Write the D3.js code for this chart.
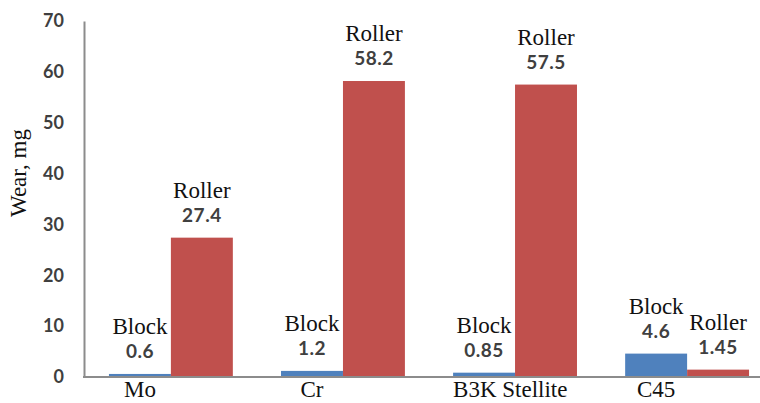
<!DOCTYPE html>
<html>
<head>
<meta charset="utf-8">
<script src="https://cdn.jsdelivr.net/npm/d3@7"></script>
<style>
  html, body { margin: 0; padding: 0; background: #fff; }
  svg { display: block; }
</style>
</head>
<body>
<svg id="chart" width="760" height="403"></svg>
<script>
// Wear of block and roller specimens for each material
const materials = ["Mo", "Cr", "B3K Stellite", "C45"];
const parts = ["Block", "Roller"];
const blockWear = [0.6, 1.2, 0.85, 4.6];
const rollerWear = [27.4, 58.2, 57.5, 1.45];
const valueLabels = {
  Block: ["0.6", "1.2", "0.85", "4.6"],
  Roller: ["27.4", "58.2", "57.5", "1.45"]
};
const yTicks = [0, 10, 20, 30, 40, 50, 60, 70];
const yTitle = "Wear, mg";

const colors = { Block: "#4F81BD", Roller: "#C0504D" };
const serif = "'Liberation Serif', 'Times New Roman', serif";
const sans = "Lato, 'Open Sans', sans-serif";

const rows = materials.map((m, i) => ({
  material: m,
  values: [
    { part: "Block", value: blockWear[i], label: valueLabels.Block[i] },
    { part: "Roller", value: rollerWear[i], label: valueLabels.Roller[i] }
  ]
}));

const svg = d3.select("#chart");
const axisX = 84, axisY = 377;

const y = d3.scaleLinear().domain([0, 70]).range([axisY, 21]);
const x0 = d3.scaleBand().domain(materials).range([axisX, 774])
  .paddingInner(0.28).paddingOuter(0.145);
const x1 = d3.scaleBand().domain(parts).range([0, x0.bandwidth()]).padding(0);

// Y axis: line plus tick labels only
const yAxis = d3.axisLeft(y).tickValues(yTicks).tickSize(0).tickPadding(20);
const yg = svg.append("g").attr("transform", `translate(${axisX},0)`).call(yAxis);
yg.select(".domain").attr("stroke", "#8c8c8c").attr("stroke-width", 2);
yg.selectAll(".tick text")
  .attr("font-family", sans).attr("font-size", 18).attr("font-weight", 700)
  .attr("fill", "#3f3f3f");

// Y axis title
svg.append("text")
  .attr("transform", `translate(26,${(y(70) + axisY) / 2 - 26}) rotate(-90)`)
  .attr("text-anchor", "middle")
  .attr("font-family", serif).attr("font-size", 23).attr("fill", "#111")
  .text(yTitle);

// Bars
const groups = svg.append("g").selectAll("g").data(rows).join("g")
  .attr("transform", d => `translate(${x0(d.material)},0)`);

groups.selectAll("rect").data(d => d.values).join("rect")
  .attr("x", d => x1(d.part))
  .attr("y", d => y(d.value))
  .attr("width", x1.bandwidth())
  .attr("height", d => axisY - y(d.value))
  .attr("fill", d => colors[d.part]);

// Value labels: part name above its value
const labels = groups.selectAll("g.lbl").data(d => d.values).join("g")
  .attr("class", "lbl")
  .attr("transform", d => `translate(${x1(d.part) + x1.bandwidth() / 2},${y(d.value) - 16})`);
labels.append("text")
  .attr("text-anchor", "middle")
  .attr("font-family", sans).attr("font-size", 19).attr("font-weight", 700)
  .attr("fill", "#404040").attr("letter-spacing", 0.5)
  .text(d => d.label);
labels.append("text")
  .attr("y", -24)
  .attr("text-anchor", "middle")
  .attr("font-family", serif).attr("font-size", 23).attr("fill", "#111")
  .text(d => d.part);

// X axis line
svg.append("line")
  .attr("x1", axisX - 1).attr("x2", 760)
  .attr("y1", axisY).attr("y2", axisY)
  .attr("stroke", "#8c8c8c").attr("stroke-width", 2);

// Category labels, centred under the block bar but kept inside the group
svg.append("g").selectAll("text").data(materials).join("text")
  .attr("font-family", serif).attr("font-size", 23).attr("fill", "#111")
  .attr("text-anchor", "middle")
  .attr("y", 397)
  .text(d => d)
  .attr("x", function (d) {
    const w = this.getComputedTextLength();
    const c = x0(d) + x1("Block") + x1.bandwidth() / 2;
    return Math.max(c, x0(d) + w / 2);
  });
</script>
</body>
</html>
